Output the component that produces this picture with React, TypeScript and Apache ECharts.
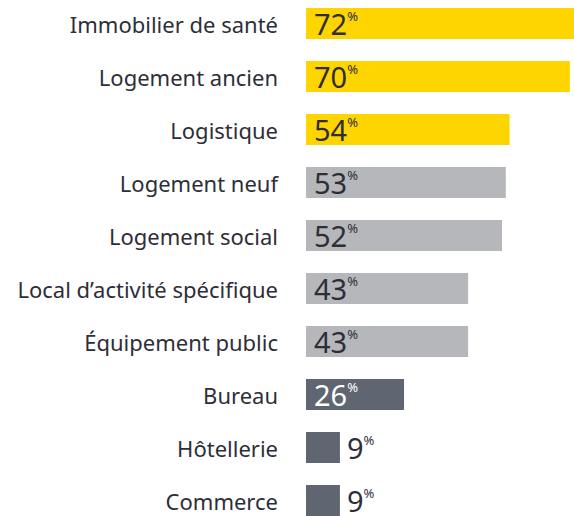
import React, { useEffect, useRef } from "react";
import * as echarts from "echarts";

const categories = [
  "Immobilier de santé",
  "Logement ancien",
  "Logistique",
  "Logement neuf",
  "Logement social",
  "Local d’activité spécifique",
  "Équipement public",
  "Bureau",
  "Hôtellerie",
  "Commerce",
];
const values = [72, 70, 54, 53, 52, 43, 43, 26, 9, 9];
// 0 = yellow, 1 = light grey, 2 = dark grey
const groups = [0, 0, 0, 1, 1, 1, 1, 2, 2, 2];

const COLORS = ["#FFD500", "#B5B7BA", "#5F6672"];
const TEXT = "#2E2E38";
const FONT = "'Noto Sans', sans-serif";

export default function App() {
  const ref = useRef<HTMLDivElement>(null);
  useEffect(() => {
    if (!ref.current) return;
    const chart = echarts.init(ref.current, undefined, { renderer: "svg" });
    const data = values.map((v, i) => {
      const g = groups[i];
      const inside = v >= 20;
      const color = g === 2 && inside ? "#FFFFFF" : TEXT;
      return {
        value: v,
        itemStyle: { color: COLORS[g] },
        label: {
          show: true,
          position: inside ? "insideLeft" : "right",
          distance: inside ? 8 : 7,
          formatter: (p: any) => `{v|${p.value}}{p|%}`,
          rich: {
            v: { fontSize: 29, fontFamily: FONT, color, lineHeight: 30 },
            p: {
              fontSize: 13,
              fontFamily: FONT,
              color,
              lineHeight: 14,
              verticalAlign: "top",
              padding: [1, 0, 0, 0],
            },
          },
        },
      };
    });
    chart.setOption({
      animation: false,
      grid: {
        left: 306,
        top: -3,
        height: 530,
        width: 80 * 3.77,
        outerBoundsMode: "none",
        containLabel: false,
      },
      xAxis: {
        type: "value",
        min: 0,
        max: 80,
        show: false,
      },
      yAxis: {
        type: "category",
        data: categories,
        inverse: true,
        axisLine: { show: false },
        axisTick: { show: false },
        splitLine: { show: false },
        axisLabel: {
          margin: 28,
          fontSize: 22,
          fontFamily: FONT,
          color: TEXT,
        },
      },
      series: [
        {
          type: "bar",
          data,
          barWidth: 31,
          clip: false,
        },
      ],
    });
    return () => chart.dispose();
  }, []);
  return (
    <div
      ref={ref}
      style={{ position: "absolute", left: 0, top: 0, width: 574, height: 516 }}
    />
  );
}
